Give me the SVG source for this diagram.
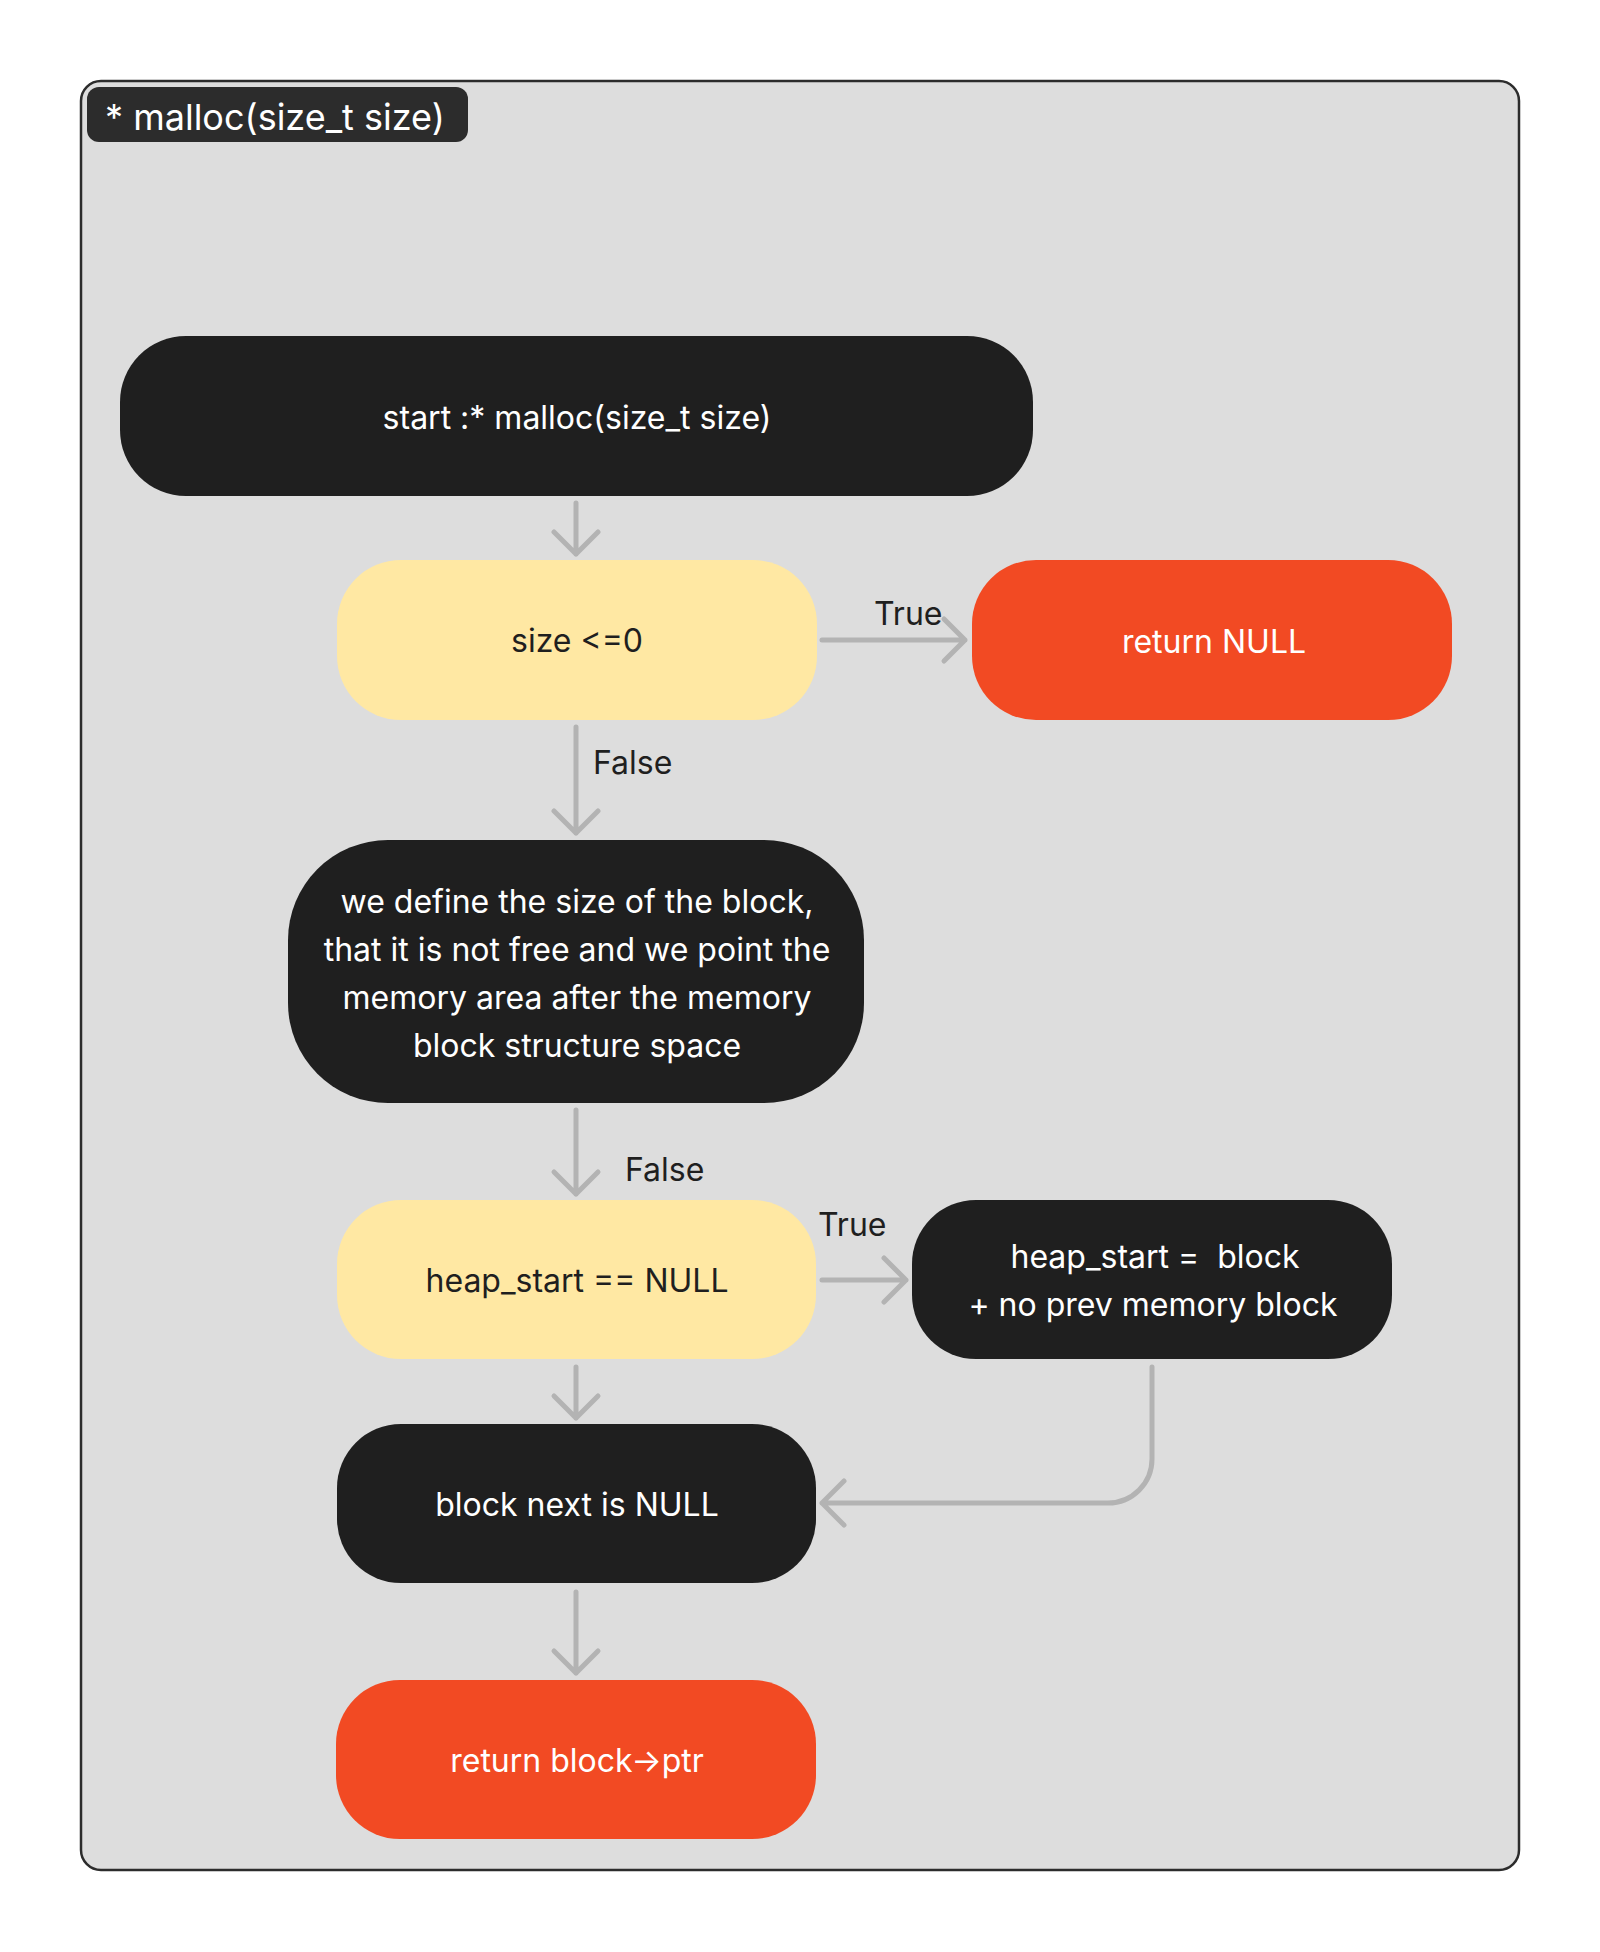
<svg xmlns="http://www.w3.org/2000/svg" width="1600" height="1952" viewBox="0 0 1600 1952">
<defs>
<style>
text{font-family:Inter,"Noto Sans","Liberation Sans",sans-serif;}
.dark{fill:#1f1f1f;}
.yel{fill:#ffe8a3;}
.org{fill:#f24a23;}
.wt{fill:#ffffff;font-size:32px;text-anchor:middle;}
.bt{fill:#1f1f1f;font-size:32px;text-anchor:middle;}
.lbl{fill:#1f1f1f;font-size:32px;}
.conn path{fill:none;stroke:#b3b3b3;stroke-width:5;stroke-linecap:round;stroke-linejoin:round;}
</style>
</defs>
<rect width="1600" height="1952" fill="#ffffff"/>
<g id="frame">
<rect x="81" y="81" width="1438" height="1789" rx="20" fill="#dddddd" stroke="#2c2c2c" stroke-width="2.5"/>
<rect x="87" y="87" width="381" height="55" rx="12" fill="#2c2c2c"/>
<text x="105" y="130" style="fill:#ffffff;font-size:36px;">* malloc(size_t size)</text>
</g>
<g id="node-start">
<rect class="dark" x="120" y="336" width="913" height="160" rx="66"/>
<text class="wt" x="577" y="429">start :* malloc(size_t size)</text>
</g>
<g id="node-size">
<rect class="yel" x="337" y="560" width="480" height="160" rx="64"/>
<text class="bt" x="577" y="652">size &lt;=0</text>
</g>
<g id="node-return-null">
<rect class="org" x="972" y="560" width="480" height="160" rx="64"/>
<text class="wt" x="1214" y="653">return NULL</text>
</g>
<g id="node-define">
<rect class="dark" x="288" y="840" width="576" height="263" rx="100"/>
<text class="wt" x="577" y="913">we define the size of the block,</text>
<text class="wt" x="577" y="961">that it is not free and we point the</text>
<text class="wt" x="577" y="1009">memory area after the memory</text>
<text class="wt" x="577" y="1057">block structure space</text>
</g>
<g id="node-heap">
<rect class="yel" x="337" y="1200" width="479" height="159" rx="64"/>
<text class="bt" x="577" y="1292">heap_start == NULL</text>
</g>
<g id="node-heap-block">
<rect class="dark" x="912" y="1200" width="480" height="159" rx="64"/>
<text class="wt" x="1155" y="1268" xml:space="preserve">heap_start =  block</text>
<text class="wt" x="1153" y="1316">+ no prev memory block</text>
</g>
<g id="node-next">
<rect class="dark" x="337" y="1424" width="479" height="159" rx="64"/>
<text class="wt" x="577" y="1516">block next is NULL</text>
</g>
<g id="node-return-ptr">
<rect class="org" x="336" y="1680" width="480" height="159" rx="64"/>
<text class="wt" x="577" y="1772">return block→ptr</text>
</g>
<g id="connectors" class="conn">
<path d="M576 503 V554 M554 532 L576 554 L598 532"/>
<path d="M822 640 H965 M944 619 L965 640 L944 661"/>
<path d="M576 727 V833 M554 811 L576 833 L598 811"/>
<path d="M576 1110 V1194 M554 1172 L576 1194 L598 1172"/>
<path d="M822 1280 H906 M884 1258 L906 1280 L884 1302"/>
<path d="M576 1367 V1418 M554 1396 L576 1418 L598 1396"/>
<path d="M1152 1367 V1459 A44 44 0 0 1 1108 1503 H822 M844 1481 L822 1503 L844 1525"/>
<path d="M576 1592 V1673 M554 1651 L576 1673 L598 1651"/>
</g>
<g id="labels">
<text class="lbl" x="874" y="625">True</text>
<text class="lbl" x="593" y="774">False</text>
<text class="lbl" x="625" y="1181">False</text>
<text class="lbl" x="818" y="1236">True</text>
</g>
</svg>
